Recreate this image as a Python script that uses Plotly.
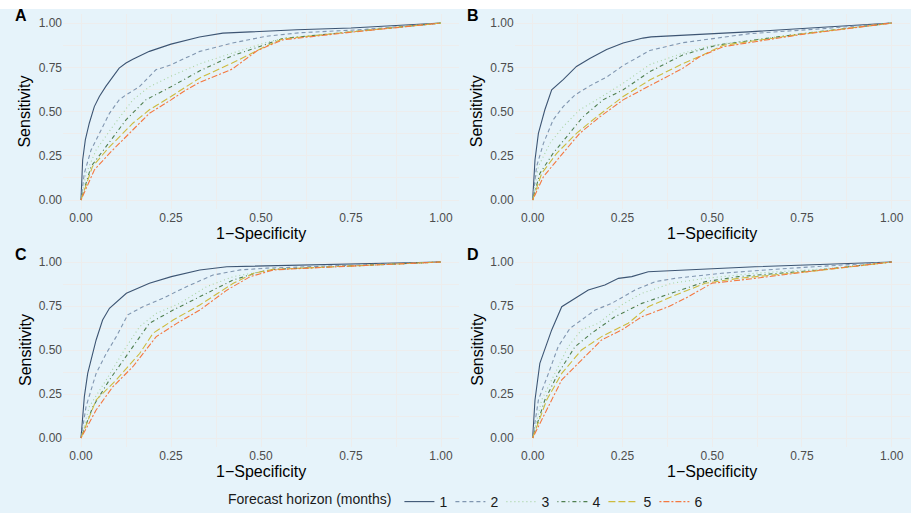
import plotly.graph_objects as go

# ---------------- data (1-Specificity = FPR, Sensitivity = TPR) ----------------
horizons = ["1", "2", "3", "4", "5", "6"]
panels = ["A", "B", "C", "D"]
tick_vals = [0, 0.25, 0.5, 0.75, 1.0]
tick_text = ["0.00", "0.25", "0.50", "0.75", "1.00"]

# Panel A
A1_fpr = [0, 0.0046, 0.012, 0.023, 0.037, 0.051, 0.069, 0.088, 0.106, 0.125, 0.144, 0.19, 0.25, 0.329, 0.394, 0.6, 0.75, 1]
A1_tpr = [0, 0.226, 0.34, 0.434, 0.528, 0.585, 0.642, 0.698, 0.745, 0.774, 0.796, 0.84, 0.881, 0.921, 0.943, 0.962, 0.972, 1]
A2_fpr = [0, 0.009, 0.028, 0.051, 0.079, 0.106, 0.125, 0.162, 0.208, 0.25, 0.33, 0.42, 0.514, 0.606, 0.79, 1]
A2_tpr = [0, 0.15, 0.283, 0.377, 0.49, 0.566, 0.594, 0.64, 0.736, 0.764, 0.84, 0.887, 0.925, 0.945, 0.964, 1]
A3_fpr = [0, 0.014, 0.042, 0.088, 0.144, 0.19, 0.25, 0.33, 0.42, 0.514, 0.56, 0.75, 1]
A3_tpr = [0, 0.15, 0.283, 0.415, 0.566, 0.64, 0.70, 0.77, 0.83, 0.89, 0.913, 0.95, 1]
A4_fpr = [0, 0.028, 0.069, 0.125, 0.18, 0.25, 0.33, 0.42, 0.514, 0.56, 0.75, 1]
A4_tpr = [0, 0.19, 0.30, 0.453, 0.566, 0.64, 0.73, 0.815, 0.88, 0.913, 0.95, 1]
A5_fpr = [0, 0.032, 0.079, 0.144, 0.19, 0.25, 0.33, 0.42, 0.514, 0.56, 0.75, 1]
A5_tpr = [0, 0.19, 0.30, 0.434, 0.51, 0.585, 0.69, 0.774, 0.87, 0.91, 0.95, 1]
A6_fpr = [0, 0.037, 0.079, 0.144, 0.19, 0.25, 0.29, 0.33, 0.42, 0.49, 0.56, 0.75, 1]
A6_tpr = [0, 0.17, 0.264, 0.396, 0.49, 0.566, 0.62, 0.665, 0.74, 0.845, 0.905, 0.948, 1]

# Panel B
B1_fpr = [0, 0.0065, 0.016, 0.034, 0.053, 0.085, 0.122, 0.159, 0.206, 0.252, 0.307, 0.33, 0.6, 1]
B1_tpr = [0, 0.226, 0.377, 0.51, 0.623, 0.68, 0.755, 0.80, 0.85, 0.887, 0.915, 0.922, 0.95, 1]
B2_fpr = [0, 0.011, 0.03, 0.057, 0.085, 0.118, 0.159, 0.206, 0.252, 0.326, 0.418, 0.604, 0.8, 1]
B2_tpr = [0, 0.19, 0.32, 0.453, 0.528, 0.594, 0.645, 0.695, 0.76, 0.845, 0.889, 0.94, 0.967, 1]
B3_fpr = [0, 0.016, 0.048, 0.085, 0.131, 0.178, 0.252, 0.326, 0.418, 0.493, 0.54, 0.75, 1]
B3_tpr = [0, 0.19, 0.32, 0.415, 0.51, 0.566, 0.66, 0.765, 0.83, 0.87, 0.885, 0.94, 1]
B4_fpr = [0, 0.02, 0.057, 0.094, 0.14, 0.196, 0.252, 0.326, 0.418, 0.511, 0.54, 0.75, 1]
B4_tpr = [0, 0.15, 0.264, 0.358, 0.47, 0.566, 0.623, 0.725, 0.82, 0.874, 0.883, 0.94, 1]
B5_fpr = [0, 0.025, 0.067, 0.122, 0.178, 0.252, 0.326, 0.418, 0.474, 0.53, 0.75, 1]
B5_tpr = [0, 0.15, 0.264, 0.377, 0.47, 0.585, 0.678, 0.77, 0.82, 0.874, 0.938, 1]
B6_fpr = [0, 0.03, 0.076, 0.131, 0.187, 0.252, 0.326, 0.418, 0.465, 0.53, 0.75, 1]
B6_tpr = [0, 0.132, 0.245, 0.377, 0.47, 0.566, 0.646, 0.744, 0.81, 0.866, 0.936, 1]

# Panel C
C1_fpr = [0, 0.0093, 0.0186, 0.042, 0.06, 0.079, 0.126, 0.19, 0.251, 0.33, 0.405, 0.609, 0.8, 1]
C1_tpr = [0, 0.235, 0.367, 0.557, 0.67, 0.737, 0.822, 0.879, 0.917, 0.955, 0.973, 0.981, 0.99, 1]
C2_fpr = [0, 0.014, 0.042, 0.07, 0.098, 0.13, 0.172, 0.228, 0.293, 0.367, 0.442, 0.516, 0.75, 1]
C2_tpr = [0, 0.178, 0.367, 0.48, 0.576, 0.70, 0.746, 0.794, 0.86, 0.926, 0.955, 0.965, 0.982, 1]
C3_fpr = [0, 0.023, 0.07, 0.126, 0.163, 0.209, 0.274, 0.349, 0.423, 0.498, 0.535, 0.70, 0.888, 1]
C3_tpr = [0, 0.178, 0.33, 0.519, 0.633, 0.708, 0.765, 0.86, 0.917, 0.945, 0.958, 0.973, 0.989, 1]
C4_fpr = [0, 0.033, 0.079, 0.144, 0.19, 0.256, 0.33, 0.423, 0.498, 0.535, 0.70, 0.888, 1]
C4_tpr = [0, 0.178, 0.33, 0.519, 0.652, 0.727, 0.803, 0.898, 0.945, 0.958, 0.973, 0.989, 1]
C5_fpr = [0, 0.042, 0.098, 0.163, 0.2, 0.256, 0.33, 0.423, 0.479, 0.535, 0.70, 0.888, 1]
C5_tpr = [0, 0.216, 0.33, 0.48, 0.595, 0.67, 0.756, 0.879, 0.936, 0.958, 0.973, 0.989, 1]
C6_fpr = [0, 0.042, 0.088, 0.144, 0.209, 0.265, 0.33, 0.405, 0.47, 0.535, 0.70, 0.888, 1]
C6_tpr = [0, 0.159, 0.29, 0.405, 0.576, 0.65, 0.727, 0.84, 0.917, 0.955, 0.972, 0.989, 1]

# Panel D
D1_fpr = [0, 0.0065, 0.02, 0.034, 0.053, 0.081, 0.127, 0.155, 0.201, 0.239, 0.276, 0.322, 0.619, 1]
D1_tpr = [0, 0.216, 0.424, 0.50, 0.614, 0.746, 0.803, 0.841, 0.869, 0.907, 0.917, 0.945, 0.973, 1]
D2_fpr = [0, 0.016, 0.044, 0.071, 0.104, 0.136, 0.174, 0.22, 0.285, 0.341, 0.396, 0.526, 0.712, 1]
D2_tpr = [0, 0.216, 0.367, 0.519, 0.623, 0.67, 0.727, 0.765, 0.841, 0.888, 0.907, 0.936, 0.964, 1]
D3_fpr = [0, 0.025, 0.062, 0.099, 0.136, 0.183, 0.248, 0.304, 0.387, 0.48, 0.619, 0.8, 1]
D3_tpr = [0, 0.216, 0.367, 0.519, 0.614, 0.652, 0.756, 0.822, 0.879, 0.907, 0.936, 0.96, 1]
D4_fpr = [0, 0.034, 0.071, 0.118, 0.164, 0.229, 0.304, 0.387, 0.48, 0.573, 0.8, 1]
D4_tpr = [0, 0.216, 0.367, 0.519, 0.595, 0.689, 0.765, 0.822, 0.888, 0.917, 0.955, 1]
D5_fpr = [0, 0.039, 0.081, 0.136, 0.192, 0.266, 0.322, 0.387, 0.48, 0.573, 0.8, 1]
D5_tpr = [0, 0.216, 0.367, 0.50, 0.576, 0.652, 0.746, 0.803, 0.879, 0.907, 0.952, 1]
D6_fpr = [0, 0.044, 0.081, 0.136, 0.192, 0.248, 0.304, 0.378, 0.434, 0.499, 0.619, 0.805, 1]
D6_tpr = [0, 0.178, 0.33, 0.443, 0.557, 0.614, 0.689, 0.746, 0.803, 0.879, 0.907, 0.955, 1]

curves = {
    "A": [(A1_fpr, A1_tpr), (A2_fpr, A2_tpr), (A3_fpr, A3_tpr), (A4_fpr, A4_tpr), (A5_fpr, A5_tpr), (A6_fpr, A6_tpr)],
    "B": [(B1_fpr, B1_tpr), (B2_fpr, B2_tpr), (B3_fpr, B3_tpr), (B4_fpr, B4_tpr), (B5_fpr, B5_tpr), (B6_fpr, B6_tpr)],
    "C": [(C1_fpr, C1_tpr), (C2_fpr, C2_tpr), (C3_fpr, C3_tpr), (C4_fpr, C4_tpr), (C5_fpr, C5_tpr), (C6_fpr, C6_tpr)],
    "D": [(D1_fpr, D1_tpr), (D2_fpr, D2_tpr), (D3_fpr, D3_tpr), (D4_fpr, D4_tpr), (D5_fpr, D5_tpr), (D6_fpr, D6_tpr)],
}

# ---------------- styling ----------------
W, H = 911, 513
BG = "#E6F3FA"
GRID = "#EDEDED"
FONT = "Liberation Sans, Arial, Helvetica, sans-serif"
colors = ["#3D5573", "#8096B0", "#A9D3A3", "#4F7F4F", "#CDBB3E", "#F47840"]
dashes = ["solid", "4px,3px", "1px,3px", "1px,3px,4px,3px", "7px,3px", "2px,2px,6px,2px"]

def px_x(p):
    return p / W

def px_y(p):
    return 1 - p / H

# panel plot areas in pixels (x0, x1, ytop, ybottom)
areas = {
    "A": (63, 459, 14.2, 208.9),
    "B": (514.7, 909.7, 14.2, 208.9),
    "C": (63, 459, 253.2, 446.8),
    "D": (514.7, 909.7, 253.2, 446.8),
}

fig = go.Figure()
layout = dict(
    width=W, height=H,
    margin=dict(l=0, r=0, t=0, b=0, autoexpand=False),
    paper_bgcolor=BG, plot_bgcolor="rgba(0,0,0,0)",
    font=dict(family=FONT, color="#000000"),
    showlegend=True,
    legend=dict(
        orientation="h", x=px_x(466), xanchor="center", y=px_y(518), yanchor="bottom",
        bgcolor="rgba(0,0,0,0)", font=dict(size=14, color="#1A1A1A"),
        title=dict(text="Forecast horizon (months)", font=dict(size=14, color="#1A1A1A"), side="left"),
        itemwidth=30, tracegroupgap=0, entrywidth=6, entrywidthmode="pixels",
    ),
    shapes=[dict(type="rect", xref="paper", yref="paper", x0=0, x1=1, y0=px_y(9), y1=1.0,
                 fillcolor="white", line=dict(width=0), layer="below")],
    annotations=[],
)

for i, p in enumerate(panels):
    n = "" if i == 0 else str(i + 1)
    x0, x1, yt, yb = areas[p]
    axcommon = dict(
        range=[-0.05, 1.05], tickvals=tick_vals, ticktext=tick_text, showline=False, zeroline=False,
        showgrid=True, gridcolor=GRID, gridwidth=1, ticks="",
        tickfont=dict(size=12, color="#4D4D4D", family=FONT),
        minor=dict(tickvals=[0.125, 0.375, 0.625, 0.875], showgrid=True, gridcolor=GRID, gridwidth=0.6),
        fixedrange=True, automargin=False,
    )
    layout["xaxis" + n] = dict(axcommon, domain=[px_x(x0), px_x(x1)], anchor="y" + n)
    layout["yaxis" + n] = dict(axcommon, domain=[px_y(yb), px_y(yt)], anchor="x" + n)
    for k, (fx, ty) in enumerate(curves[p]):
        fig.add_trace(go.Scatter(
            x=fx, y=ty, mode="lines", name=horizons[k], legendgroup=horizons[k],
            showlegend=(i == 0), xaxis="x" + n, yaxis="y" + n,
            line=dict(color=colors[k], width=1.1, dash=dashes[k]),
            hoverinfo="skip",
        ))
    cx = (x0 + x1) / 2
    cy = (yt + yb) / 2
    layout["annotations"].append(dict(text="Sensitivity", xref="paper", yref="paper",
                                      x=px_x(x0 - 38), y=px_y(cy), textangle=-90, showarrow=False,
                                      font=dict(size=16, family=FONT, color="#000000"),
                                      xanchor="center", yanchor="middle"))
    layout["annotations"].append(dict(text="1\u2212Specificity", xref="paper", yref="paper",
                                      x=px_x(cx), y=px_y(yb + 25), showarrow=False,
                                      font=dict(size=16, family=FONT, color="#000000"),
                                      xanchor="center", yanchor="middle"))
    layout["annotations"].append(dict(text="<b>" + p + "</b>", xref="paper", yref="paper",
                                      x=px_x(x0 - 42), y=px_y(yt + 1.5), showarrow=False,
                                      font=dict(size=16, family=FONT, color="#000000"),
                                      xanchor="center", yanchor="middle"))

fig.update_layout(**layout)
fig.write_html(
    "out.html", config={"displayModeBar": False},
    post_script=("document.documentElement.style.margin='0';document.body.style.margin='0';"
                 "document.body.style.overflow='hidden';document.documentElement.style.overflow='hidden';"),
)
